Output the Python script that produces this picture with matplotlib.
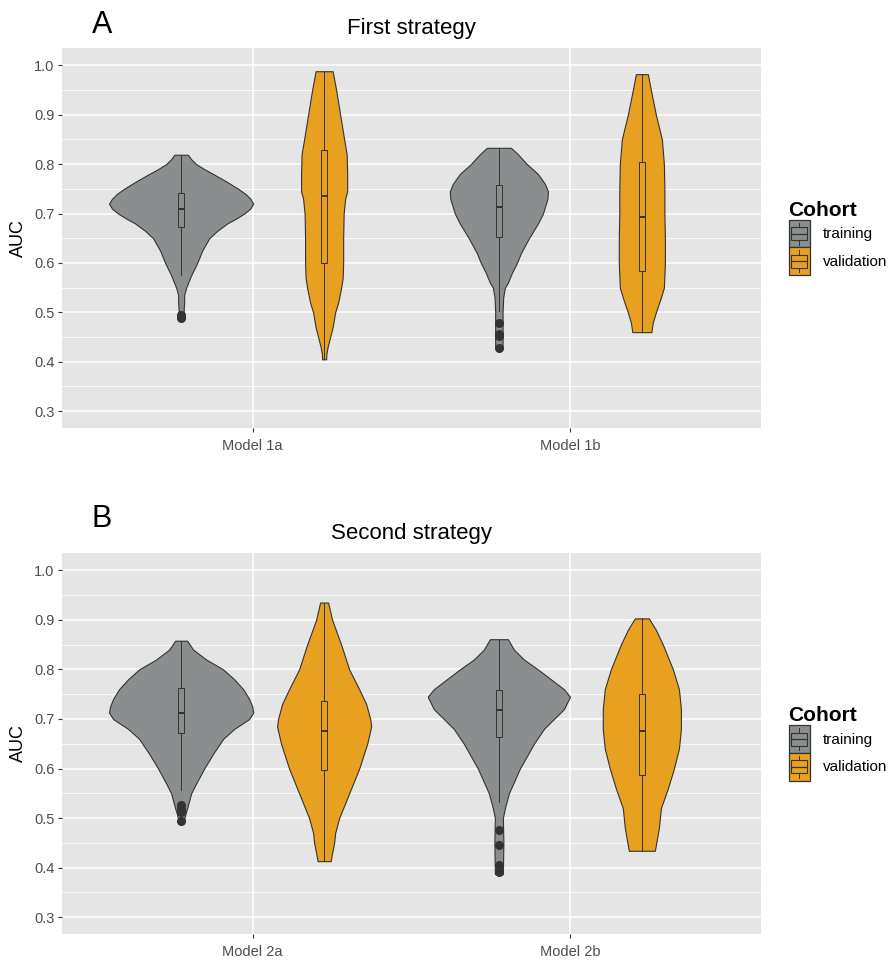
import matplotlib
matplotlib.use("Agg")
import matplotlib.pyplot as plt
from matplotlib.patches import Rectangle
from matplotlib.lines import Line2D
from matplotlib.legend_handler import HandlerBase
from matplotlib.ticker import MultipleLocator

plt.rcParams["font.family"] = ["Liberation Sans", "DejaVu Sans"]

cohorts = ["training", "validation"]
colors = {"training": "#8B8E8F", "validation": "#E8A020"}

models_a = ["Model 1a", "Model 1b"]
models_b = ["Model 2a", "Model 2b"]

# violin outlines: AUC levels and density half-widths (72 = widest)
t1a_y = [0.819, 0.81, 0.80, 0.79, 0.78, 0.765, 0.75, 0.74, 0.73, 0.72, 0.71, 0.70, 0.69, 0.68,
         0.665, 0.65, 0.625, 0.60, 0.575, 0.55, 0.535, 0.52, 0.505, 0.49]
t1a_w = [6.7, 10, 15, 23, 32, 45, 57, 64, 69, 72, 69, 63, 55, 46, 36, 28, 21, 16, 10, 5, 3, 3, 2.5, 3]
v1a_y = [0.988, 0.95, 0.90, 0.85, 0.82, 0.78, 0.745, 0.73, 0.70, 0.65, 0.60, 0.57, 0.55, 0.52,
         0.50, 0.47, 0.45, 0.43, 0.415, 0.405]
v1a_w = [8.5, 12, 16, 20, 22.5, 23, 23, 21, 19.5, 19, 19, 18.5, 17, 14, 11, 8.5, 6, 3.5, 2.2, 2]
t1b_y = [0.833, 0.82, 0.80, 0.78, 0.76, 0.745, 0.73, 0.72, 0.70, 0.68, 0.65, 0.62, 0.60, 0.58,
         0.56, 0.55, 0.53, 0.50, 0.46, 0.428]
t1b_w = [12, 19, 28, 39, 46, 49, 48.5, 47, 44, 39, 30, 22, 18, 13, 9, 6, 4.3, 3.7, 3.7, 3.7]
v1b_y = [0.982, 0.95, 0.90, 0.85, 0.80, 0.75, 0.70, 0.65, 0.60, 0.55, 0.53, 0.50, 0.48, 0.46]
v1b_w = [6, 9, 14, 20, 22, 22.5, 22.5, 23, 23, 22, 19, 14, 11, 9.5]

t2a_y = [0.858, 0.84, 0.82, 0.80, 0.78, 0.76, 0.74, 0.725, 0.713, 0.70, 0.68, 0.66, 0.63, 0.60,
         0.57, 0.55, 0.52, 0.51, 0.498]
t2a_w = [6, 12, 25, 42, 53, 62, 68, 71, 72, 68, 53, 42, 32, 23, 15, 10, 6, 4.5, 3]
v2a_y = [0.935, 0.90, 0.85, 0.80, 0.76, 0.73, 0.70, 0.685, 0.65, 0.60, 0.55, 0.50, 0.47, 0.45,
         0.43, 0.413]
v2a_w = [4, 8, 17, 25, 35, 42, 46, 47, 43, 35, 25, 15, 11, 10, 8, 6.5]
t2b_y = [0.861, 0.84, 0.82, 0.80, 0.78, 0.76, 0.745, 0.72, 0.70, 0.68, 0.65, 0.60, 0.55, 0.52,
         0.50, 0.45, 0.387]
t2b_w = [9, 15, 25, 39, 52, 65, 71, 65, 55, 45, 35, 21, 10, 6, 4, 4.5, 4]
v2b_y = [0.903, 0.88, 0.85, 0.80, 0.76, 0.72, 0.68, 0.64, 0.60, 0.56, 0.52, 0.48, 0.434]
v2b_w = [7, 14, 21, 31, 37, 39, 39, 37, 32, 26, 19, 17, 13]

# box summaries: q1, median, q3, lower whisker, upper whisker, outliers
t1a_box = (0.672, 0.710, 0.742, 0.576, 0.819, [0.488, 0.492, 0.494])
v1a_box = (0.600, 0.735, 0.828, 0.405, 0.988, [])
t1b_box = (0.653, 0.714, 0.758, 0.502, 0.833, [0.478, 0.456, 0.452, 0.428])
v1b_box = (0.584, 0.692, 0.805, 0.460, 0.982, [])
t2a_box = (0.672, 0.712, 0.762, 0.556, 0.858, [0.526, 0.519, 0.512, 0.495])
v2a_box = (0.597, 0.676, 0.737, 0.413, 0.935, [])
t2b_box = (0.663, 0.718, 0.759, 0.533, 0.861, [0.476, 0.446, 0.405, 0.391])
v2b_box = (0.587, 0.676, 0.751, 0.434, 0.903, [])

panels = [
    ("A", "First strategy", models_a,
     [[(t1a_y, t1a_w, t1a_box), (v1a_y, v1a_w, v1a_box)],
      [(t1b_y, t1b_w, t1b_box), (v1b_y, v1b_w, v1b_box)]]),
    ("B", "Second strategy", models_b,
     [[(t2a_y, t2a_w, t2a_box), (v2a_y, v2a_w, v2a_box)],
      [(t2b_y, t2b_w, t2b_box), (v2b_y, v2b_w, v2b_box)]]),
]

edge = "#333333"
dodge = 0.225
w_scale = 0.227 / 72


class BoxKey(HandlerBase):
    # ggplot style key: filled square with a small boxplot glyph inside
    def create_artists(self, legend, orig, xd, yd, w, h, fontsize, trans):
        x0, y0 = -xd, -yd
        fc = orig.get_facecolor()
        bg = Rectangle((x0, y0), w, h, fc=fc, ec=edge, lw=0.9, transform=trans)
        box = Rectangle((x0 + 0.12 * w, y0 + 0.27 * h), 0.76 * w, 0.46 * h,
                        fc=fc, ec=edge, lw=0.8, transform=trans)
        med = Line2D([x0 + 0.12 * w, x0 + 0.88 * w], [y0 + 0.5 * h] * 2, color=edge, lw=0.9, transform=trans)
        up = Line2D([x0 + w / 2] * 2, [y0 + 0.73 * h, y0 + 0.9 * h], color=edge, lw=0.7, transform=trans)
        lo = Line2D([x0 + w / 2] * 2, [y0 + 0.1 * h, y0 + 0.27 * h], color=edge, lw=0.7, transform=trans)
        return [bg, box, med, up, lo]


fig = plt.figure(figsize=(8.95, 9.63), dpi=100)
axes_rects = [[62 / 895, 1 - 428 / 963, 699 / 895, 380 / 963],
              [62 / 895, 1 - 934 / 963, 699 / 895, 381 / 963]]
letter_y = [1 - 33 / 963, 1 - 527 / 963]

for (letter, title, models, groups), rect, ly in zip(panels, axes_rects, letter_y):
    ax = fig.add_axes(rect)
    ax.set_facecolor("#E5E5E5")
    for s in ax.spines.values():
        s.set_visible(False)
    for i, pair in enumerate(groups):
        for j, (ys, ws, box) in enumerate(pair):
            cx = (i + 1) + (-dodge if j == 0 else dodge)
            half = [w * w_scale for w in ws]
            ax.fill_betweenx(ys, [cx - h for h in half], [cx + h for h in half],
                             facecolor=colors[cohorts[j]], edgecolor=edge, lw=0.8,
                             joinstyle="round", zorder=2)
            q1, med, q3, lo, hi, fl = box
            stats = [dict(med=med, q1=q1, q3=q3, whislo=lo, whishi=hi, fliers=fl)]
            ax.bxp(stats, positions=[cx], widths=0.02, patch_artist=True, showcaps=False,
                   boxprops=dict(facecolor=colors[cohorts[j]], edgecolor=edge, lw=0.7),
                   medianprops=dict(color=edge, lw=1.4),
                   whiskerprops=dict(color=edge, lw=0.7),
                   flierprops=dict(marker="o", markersize=5.5, markerfacecolor=edge,
                                   markeredgecolor=edge), zorder=3, manage_ticks=False)
    ax.set_xlim(0.4, 2.6)
    ax.set_ylim(0.266, 1.035)
    ax.set_xticks([1, 2])
    ax.set_xticklabels(models, fontsize=10.5, color="#4D4D4D")
    ax.yaxis.set_minor_locator(MultipleLocator(0.05))
    ax.set_yticks([0.3, 0.4, 0.5, 0.6, 0.7, 0.8, 0.9, 1.0])
    ax.set_yticklabels(["0.3", "0.4", "0.5", "0.6", "0.7", "0.8", "0.9", "1.0"], fontsize=10.5, color="#4D4D4D")
    ax.tick_params(axis="both", which="major", length=3, width=0.8, color="#333333", pad=2.5)
    ax.tick_params(axis="x", which="major", pad=5)
    ax.tick_params(axis="y", which="minor", length=0)
    ax.grid(True, which="major", color="white", lw=1.1)
    ax.grid(True, which="minor", axis="y", color="white", lw=0.6)
    ax.set_axisbelow(True)
    ax.set_ylabel("AUC", fontsize=13, labelpad=5)
    ax.set_title(title, fontsize=16, pad=10)
    fig.text(92 / 895, ly, letter, fontsize=22, ha="left", va="baseline")

    handles = [Rectangle((0, 0), 1, 1, facecolor=colors[c]) for c in cohorts]
    ax.legend(handles, cohorts, title="Cohort", loc="center left", bbox_to_anchor=(1.0, 0.5),
              frameon=False, fontsize=11, handler_map={Rectangle: BoxKey()},
              handlelength=1.4, handleheight=2.4, labelspacing=0.0, handletextpad=0.85,
              borderpad=0.0, borderaxespad=1.8, alignment="left",
              title_fontproperties={"weight": "bold", "size": 15})

fig.savefig("out.png", dpi=100)
